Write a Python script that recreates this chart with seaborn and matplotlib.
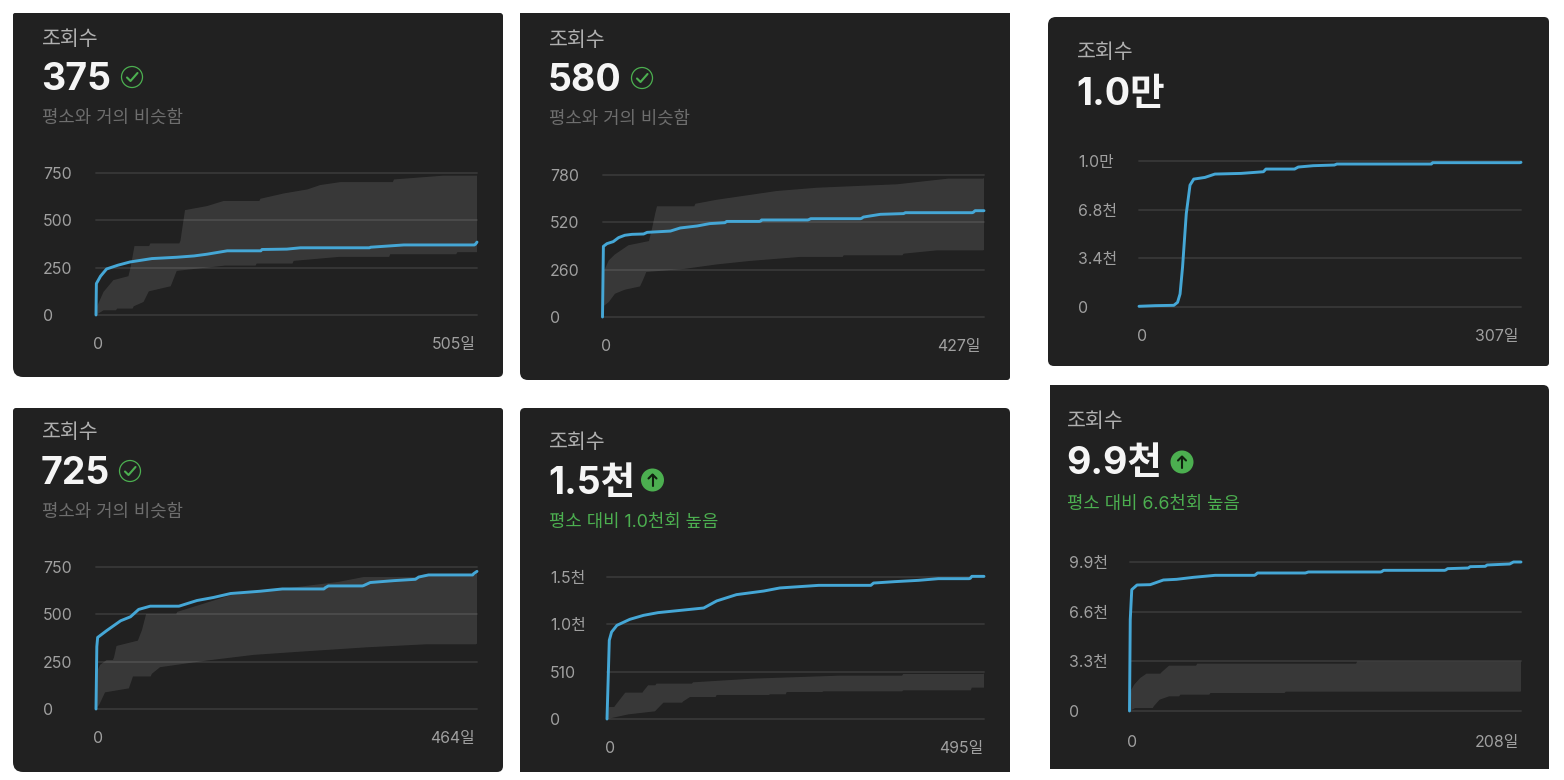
import numpy as np
import matplotlib
matplotlib.use("Agg")
import matplotlib.pyplot as plt
from matplotlib.patches import PathPatch, Circle
from matplotlib.path import Path
from matplotlib.transforms import ScaledTranslation
import seaborn as sns

# ---------- data ----------
a_line_x = [0, 0.5, 6, 14, 29, 45, 74, 107, 130, 147, 174, 220, 253, 271, 364, 408, 503, 505]
a_line_y = [0, 166, 205, 243, 263, 280, 298, 305, 312, 321, 339, 346, 348, 355, 358, 370, 374, 385]
a_up_x = [0, 1, 10, 23, 43, 46, 51, 72, 112, 114, 118, 147, 169, 218, 249, 280, 297, 324, 395, 461, 505]
a_up_y = [0, 42, 122, 184, 205, 254, 364, 378, 392, 448, 554, 575, 602, 614, 642, 663, 686, 702, 716, 736, 736]
a_lo_x = [0, 10, 28, 50, 63, 70, 99, 107, 171, 213, 262, 322, 390, 479, 505]
a_lo_y = [0, 25, 34, 46, 69, 125, 152, 233, 261, 272, 286, 307, 321, 332, 332]

b_line_x = [0, 1, 5, 12, 18, 25, 33, 46, 50, 76, 87, 106, 120, 137, 139, 177, 178, 231, 233, 290, 292, 311, 337, 339, 415, 417, 427]
b_line_y = [0, 388, 403, 414, 436, 449, 454, 456, 465, 472, 489, 500, 513, 518, 525, 527, 533, 535, 540, 542, 549, 564, 568, 573, 575, 584, 584]
b_up_x = [0, 2, 7, 14, 29, 52, 55, 59, 61, 104, 128, 195, 240, 330, 387, 427]
b_up_y = [0, 256, 311, 344, 394, 417, 476, 568, 608, 622, 644, 692, 710, 729, 760, 763]
b_lo_x = [0, 1, 7, 14, 25, 42, 46, 49, 91, 128, 165, 221, 270, 337, 374, 427]
b_lo_y = [0, 59, 82, 128, 150, 168, 211, 247, 264, 289, 308, 330, 339, 348, 366, 368]

c_line_x = [0, 13, 28, 31, 33, 35, 38, 41, 44, 53, 61, 82, 100, 102, 126, 128, 140, 157, 159, 235, 236, 307]
c_line_y = [50, 94, 117, 327, 912, 2784, 6526, 8515, 8936, 9053, 9287, 9333, 9450, 9637, 9684, 9778, 9871, 9918, 9988, 9988, 10082, 10105]

d_line_x = [0, 1, 2, 13, 30, 42, 52, 66, 101, 123, 143, 164, 200, 227, 279, 283, 326, 334, 363, 389, 393, 405, 460, 464]
d_line_y = [0, 329, 378, 414, 466, 487, 526, 543, 543, 573, 589, 610, 622, 634, 640, 650, 652, 668, 678, 685, 697, 708, 715, 727]
d_up_x = [0, 2, 5, 13, 22, 25, 51, 56, 61, 99, 164, 295, 326, 399, 464]
d_up_y = [0, 207, 233, 259, 273, 333, 361, 417, 501, 513, 601, 671, 697, 711, 722]
d_lo_x = [0, 4, 11, 40, 45, 68, 78, 135, 192, 249, 330, 403, 464]
d_lo_y = [0, 23, 88, 109, 172, 186, 221, 256, 286, 303, 326, 342, 345]

e_line_x = [0, 2, 3, 6, 13, 30, 48, 67, 127, 144, 170, 206, 227, 278, 348, 350, 378, 409, 435, 477, 479, 495]
e_line_y = [0, 560, 848, 937, 1009, 1074, 1117, 1146, 1196, 1272, 1340, 1379, 1412, 1440, 1451, 1465, 1480, 1494, 1512, 1516, 1537, 1537]
e_up_x = [0, 3, 11, 24, 48, 54, 65, 113, 192, 306, 389, 495]
e_up_y = [0, 129, 147, 284, 302, 363, 381, 395, 435, 467, 485, 489]
e_lo_x = [0, 28, 63, 74, 100, 109, 144, 214, 236, 284, 389, 479, 495]
e_lo_y = [0, 50, 83, 176, 190, 237, 259, 266, 291, 298, 309, 338, 338]

f_line_x = [0, 0.4, 1.2, 4, 11, 18, 25, 34, 45.5, 67, 68, 94, 95, 134, 135, 168, 169, 180, 181, 189, 190, 202, 204, 208]
f_line_y = [0, 6069, 8062, 8372, 8394, 8704, 8749, 8882, 9015, 9059, 9169, 9192, 9236, 9258, 9347, 9369, 9457, 9502, 9590, 9612, 9701, 9767, 9900, 9900]
f_up_x = [0, 1, 2.5, 5.7, 9, 17, 21, 36, 121, 208]
f_up_y = [0, 1417, 1750, 2193, 2480, 2569, 3012, 3145, 3278, 3278]
f_lo_x = [0, 3, 13, 16, 21, 27, 43, 83, 208]
f_lo_y = [0, 199, 332, 753, 975, 1085, 1196, 1285, 1307]

a_ticks, a_labels = [0, 250, 500, 750], ["0", "250", "500", "750"]
b_ticks, b_labels = [0, 260, 520, 780], ["0", "260", "520", "780"]
c_ticks, c_labels = [0, 3400, 6800, 10200], ["0", "3.4천", "6.8천", "1.0만"]
d_ticks, d_labels = [0, 250, 500, 750], ["0", "250", "500", "750"]
e_ticks, e_labels = [0, 510, 1020, 1530], ["0", "510", "1.0천", "1.5천"]
f_ticks, f_labels = [0, 3300, 6600, 9900], ["0", "3.3천", "6.6천", "9.9천"]

days = [505, 427, 307, 464, 495, 208]
totals = ["375", "580", "1.0만", "725", "1.5천", "9.9천"]
title = "조회수"
same = "평소와 거의 비슷함"
subs = [same, same, "", same, "평소 대비 1.0천회 높음", "평소 대비 6.6천회 높음"]
status = ["ok", "ok", "", "ok", "up", "up"]

# ---------- layout in pixels ----------
W, H = 1564, 780
CARD = "#212121"
GRID = "#383838"
BLUE = "#45a7d6"
GREEN = "#4caf50"

layout = [
    dict(card=(13, 13, 503, 377), rad=(2, 3, 5, 10), plot=(96, 477, 173, 315), tx=42, ty=(37, 77, 116), icon=(132, 77), ylab=43, xlab=(93.5, 476, 343)),
    dict(card=(520, 13, 1010, 380), rad=(0, 0, 3, 8), plot=(602.5, 984, 175, 317), tx=549, ty=(38, 78, 117), icon=(642, 78), ylab=550, xlab=(600.5, 981, 345)),
    dict(card=(1048, 17, 1549, 366), rad=(8, 5, 3, 6), plot=(1139, 1521, 161, 307), tx=1077, ty=(50, 92, 0), icon=None, ylab=1078, xlab=(1137.5, 1518, 335)),
    dict(card=(13, 408, 503, 772), rad=(3, 3, 6, 10), plot=(96, 477, 567, 709), tx=42, ty=(430, 471, 510), icon=(130, 471), ylab=43, xlab=(93.5, 475, 737)),
    dict(card=(520, 408, 1010, 772), rad=(5, 5, 0, 0), plot=(607, 984, 577, 719), tx=549, ty=(440, 481, 520), icon=(652.5, 480), ylab=550, xlab=(605.5, 983, 747)),
    dict(card=(1050, 385, 1549, 769), rad=(0, 6, 0, 0), plot=(1129.5, 1521, 562, 711), tx=1067, ty=(419, 461, 503), icon=(1182, 462), ylab=1069, xlab=(1127.5, 1519, 741)),
]

series = [
    (a_line_x, a_line_y, a_up_x, a_up_y, a_lo_x, a_lo_y, a_ticks, a_labels),
    (b_line_x, b_line_y, b_up_x, b_up_y, b_lo_x, b_lo_y, b_ticks, b_labels),
    (c_line_x, c_line_y, None, None, None, None, c_ticks, c_labels),
    (d_line_x, d_line_y, d_up_x, d_up_y, d_lo_x, d_lo_y, d_ticks, d_labels),
    (e_line_x, e_line_y, e_up_x, e_up_y, e_lo_x, e_lo_y, e_ticks, e_labels),
    (f_line_x, f_line_y, f_up_x, f_up_y, f_lo_x, f_lo_y, f_ticks, f_labels),
]

sns.set_theme(style="white")
plt.rcParams["font.family"] = ["Inter", "Noto Sans CJK KR", "DejaVu Sans"]

fig = plt.figure(figsize=(W / 100, H / 100), dpi=100, facecolor="white")
bg = fig.add_axes([0, 0, 1, 1], zorder=0)
bg.set_xlim(0, W)
bg.set_ylim(H, 0)
bg.axis("off")


def stairs(xs, ys, xspan, yspan, min_dx, max_dy):
    """Cumulative counters rise in small jumps: hold a read value until the next one."""
    ox, oy = [xs[0]], [ys[0]]
    for x0, y0, x1, y1 in zip(xs[:-1], ys[:-1], xs[1:], ys[1:]):
        if x1 - x0 > min_dx * xspan and y1 - y0 < max_dy * yspan:
            ox.append(x1 - 0.003 * xspan)
            oy.append(y0)
        ox.append(x1)
        oy.append(y1)
    return ox, oy


def card(ax, box, rad):
    x0, y0, x1, y1 = box
    tl, tr, br, bl = rad
    v = [(x0 + tl, y0), (x1 - tr, y0), (x1, y0), (x1, y0 + tr), (x1, y1 - br), (x1, y1), (x1 - br, y1),
         (x0 + bl, y1), (x0, y1), (x0, y1 - bl), (x0, y0 + tl), (x0, y0), (x0 + tl, y0), (x0 + tl, y0)]
    c = [Path.MOVETO, Path.LINETO, Path.CURVE3, Path.CURVE3, Path.LINETO, Path.CURVE3, Path.CURVE3,
         Path.LINETO, Path.CURVE3, Path.CURVE3, Path.LINETO, Path.CURVE3, Path.CURVE3, Path.CLOSEPOLY]
    ax.add_patch(PathPatch(Path(v, c), facecolor=CARD, edgecolor="none"))


def draw_icon(ax, kind, cx, cy):
    if kind == "ok":
        ax.add_patch(Circle((cx, cy), 10.5, fill=False, edgecolor=GREEN, lw=0.9))
        ax.plot([cx - 5, cx - 1.5, cx + 5.5], [cy + 0.5, cy + 4, cy - 4], color=GREEN, lw=1.5)
    elif kind == "up":
        ax.add_patch(Circle((cx, cy), 11.5, facecolor=GREEN, edgecolor="none"))
        ax.plot([cx, cx], [cy + 6, cy - 5.5], color="#10200f", lw=1.5)
        ax.plot([cx - 4, cx, cx + 4], [cy - 1.5, cy - 5.5, cy - 1.5], color="#10200f", lw=1.5)


for i, (lay, s) in enumerate(zip(layout, series)):
    lx, ly, ux, uy, dx, dy, ticks, labels = s
    card(bg, lay["card"], lay["rad"])
    tx = lay["tx"]
    ty = lay["ty"]
    bg.text(tx, ty[0] + 3, title, color="#b0b0b0", fontsize=14.8, va="center", ha="left")
    bg.text(tx - 1, ty[1] + 3, totals[i], color="#f5f5f5", fontsize=27, fontweight="bold", va="center", ha="left")
    if subs[i]:
        col = GREEN if status[i] == "up" else "#6e6e6e"
        bg.text(tx, ty[2] + 2, subs[i], color=col, fontsize=12.8, va="center", ha="left")
    if lay["icon"]:
        draw_icon(bg, status[i], *lay["icon"])

    px0, px1, py_top, py_bot = lay["plot"]
    ax = fig.add_axes([px0 / W, 1 - py_bot / H, (px1 - px0) / W, (py_bot - py_top) / H], zorder=1)
    ax.patch.set_alpha(0)
    for sp in ax.spines.values():
        sp.set_visible(False)
    ax.set_xlim(0, days[i])
    ax.set_ylim(0, ticks[-1])
    ax.set_yticks(ticks)
    ax.set_yticklabels(labels)
    ax.set_xticks([0, days[i]])
    ax.set_xticklabels(["0", f"{days[i]}일"])
    ax.grid(axis="y", color=GRID, lw=1.3, clip_on=False, zorder=0)
    ax.set_axisbelow(True)
    ypad = (px0 - lay["ylab"]) * 0.72
    xl, xr, xy = lay["xlab"]
    xpad = (xy + 1.5 - py_bot) * 0.72
    ax.tick_params(axis="y", length=0, pad=ypad, labelsize=11.4, labelcolor="#a0a0a0")
    ax.tick_params(axis="x", length=0, pad=xpad, labelsize=11.4, labelcolor="#a0a0a0")
    for t in ax.get_yticklabels():
        t.set_ha("left")
        t.set_va("center")
        t.set_transform(t.get_transform() + ScaledTranslation(0, -1.5 / 100, fig.dpi_scale_trans))
    xt = ax.get_xticklabels()
    xt[0].set_ha("left")
    xt[1].set_ha("right")
    for t, off in zip(xt, (xl - px0, xr - px1)):
        t.set_va("center")
        t.set_transform(t.get_transform() + ScaledTranslation(off / 100, 0, fig.dpi_scale_trans))
    if ux is not None:
        sux, suy = stairs(ux, uy, days[i], ticks[-1], 0.015, 0.02)
        sdx, sdy = stairs(dx, dy, days[i], ticks[-1], 0.015, 0.02)
        ax.fill(np.r_[sux, sdx[::-1]], np.r_[suy, sdy[::-1]], color="white", alpha=0.105, lw=0, zorder=2)
    slx, sly = stairs(lx, ly, days[i], ticks[-1], 0.07, 0.015)
    sns.lineplot(x=slx, y=sly, ax=ax, color=BLUE, lw=2.1, estimator=None, sort=False, zorder=3, clip_on=False)
    ax.set_xlabel("")
    ax.set_ylabel("")

fig.savefig("out.png", dpi=100, facecolor="white")
